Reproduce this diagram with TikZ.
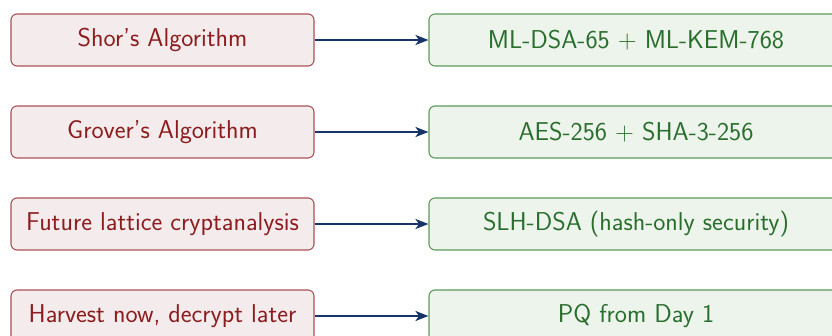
\documentclass[tikz,border=0pt]{standalone}
\usetikzlibrary{arrows.meta}
\definecolor{threatfill}{RGB}{244,236,236}
\definecolor{threatdraw}{RGB}{170,80,84}
\definecolor{threattext}{RGB}{140,28,30}
\definecolor{fixfill}{RGB}{237,244,236}
\definecolor{fixdraw}{RGB}{90,155,90}
\definecolor{fixtext}{RGB}{42,110,46}
\definecolor{arrowblue}{RGB}{22,52,104}
\begin{document}
\begin{tikzpicture}[x=1pt,y=-1pt,
  threat/.style={draw=threatdraw, line width=1.1pt, fill=threatfill, text=threattext,
    rounded corners=6pt, minimum width=303pt, minimum height=52pt, inner sep=0pt,
    font=\sffamily\fontsize{25.8}{30}\selectfont},
  remedy/.style={draw=fixdraw, line width=1.1pt, fill=fixfill, text=fixtext,
    rounded corners=6pt, minimum width=414pt, minimum height=52pt, inner sep=0pt,
    font=\sffamily\fontsize{25.8}{30}\selectfont},
  link/.style={draw=arrowblue, line width=2pt, -{Stealth[length=13pt,width=10pt,inset=3.5pt]}}]
\useasboundingbox (0,0) rectangle (832,336);
\clip (0,0) rectangle (832,336);
\node[threat] (t1) at (162.5,40) {Shor's Algorithm};
\node[threat] (t2) at (162.5,132) {Grover's Algorithm};
\node[threat] (t3) at (162.5,224) {Future lattice cryptanalysis};
\node[threat] (t4) at (162.5,316) {Harvest now, decrypt later};
\node[remedy] (r1) at (636,40) {ML-DSA-65 + ML-KEM-768};
\node[remedy] (r2) at (636,132) {AES-256 + SHA-3-256};
\node[remedy] (r3) at (636,224) {SLH-DSA (hash-only security)};
\node[remedy] (r4) at (636,316) {PQ from Day 1};
\foreach \i in {1,...,4}
  \draw[link] (t\i) -- (r\i);
\end{tikzpicture}
\end{document}
